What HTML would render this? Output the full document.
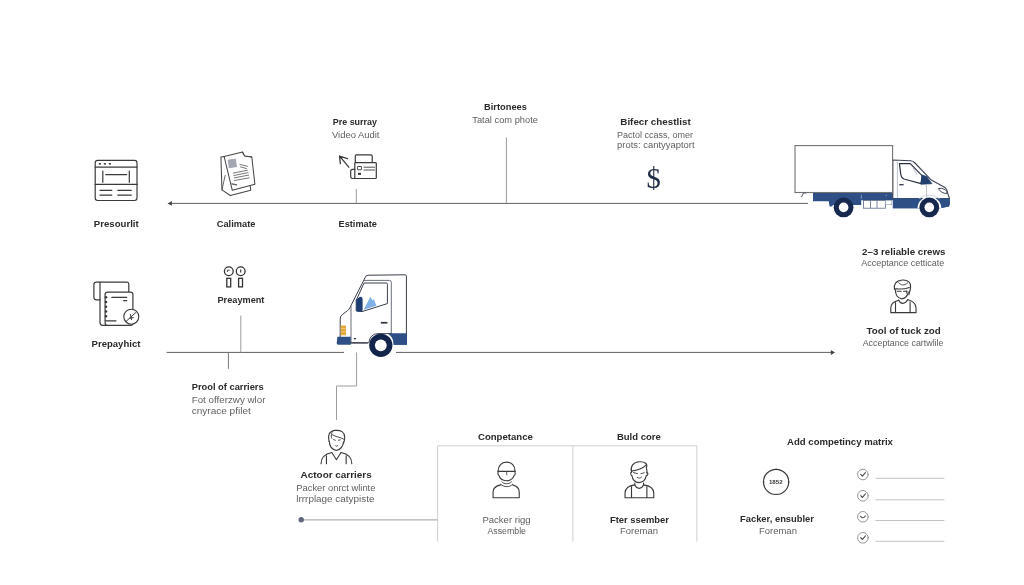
<!DOCTYPE html>
<html lang="en"><head><meta charset="utf-8"><title>Moving process infographic</title>
<style>
html,body{margin:0;padding:0;background:#fff;}
body{width:1024px;height:585px;overflow:hidden;font-family:"Liberation Sans",sans-serif;}
svg{display:block;will-change:transform;}
svg text{font-family:"Liberation Sans",sans-serif;}
</style></head><body>
<svg width="1024" height="585" viewBox="0 0 1024 585">
<rect width="1024" height="585" fill="#ffffff"/>
<!-- main timeline lines -->
<g id="lines" fill="none" stroke="#606060" stroke-width="1">
  <line x1="170" y1="203.4" x2="808" y2="203.4"/>
  <line x1="166.6" y1="352.4" x2="344" y2="352.4"/>
  <line x1="396" y1="352.4" x2="831" y2="352.4"/>
</g>
<polygon points="167.5,203.4 171.8,201.1 171.8,205.7" fill="#444"/>
<polygon points="835,352.5 830.8,350 830.8,355" fill="#444"/>
<g id="ticks" fill="none" stroke="#9c9c9c" stroke-width="1">
  <line x1="356.3" y1="189" x2="356.3" y2="203"/>
  <line x1="506.4" y1="137.4" x2="506.4" y2="203"/>
  <line x1="240.8" y1="315.6" x2="240.8" y2="352.4"/>
  <line x1="228.4" y1="352.4" x2="228.4" y2="368.8" stroke="#777"/>
  <polyline points="356.6,352.4 356.6,386 336.5,386 336.5,420"/>
  <line x1="303" y1="519.9" x2="437.6" y2="519.9"/>
</g>
<circle cx="301.2" cy="519.8" r="2.7" fill="#5f667c"/>
<!-- competence box -->
<g fill="none" stroke="#cfcfcf" stroke-width="1">
  <polyline points="437.6,541.6 437.6,445.8 696.9,445.8 696.9,541.6"/>
  <line x1="572.9" y1="445.8" x2="572.9" y2="541.6"/>
</g>

<!-- browser icon -->
<g id="ic-browser" fill="none" stroke="#3a3a3a" stroke-width="1.2" stroke-linecap="round">
  <rect x="95.2" y="160.3" width="41.8" height="40.2" rx="2.4"/>
  <line x1="95.2" y1="167.2" x2="137" y2="167.2"/>
  <line x1="95.2" y1="184.4" x2="137" y2="184.4"/>
  <line x1="102.8" y1="171" x2="102.8" y2="182.3"/>
  <line x1="129.3" y1="171" x2="129.3" y2="182.3"/>
  <line x1="105.7" y1="174.6" x2="126.7" y2="174.6"/>
  <line x1="100" y1="190.3" x2="111.8" y2="190.3"/>
  <line x1="117.8" y1="190.3" x2="131.3" y2="190.3"/>
  <line x1="100" y1="195.2" x2="111.8" y2="195.2"/>
  <line x1="117.8" y1="195.2" x2="131.3" y2="195.2"/>
  <g stroke="none" fill="#3a3a3a"><rect x="98.8" y="163.1" width="2.2" height="1.5"/><rect x="103.8" y="163.1" width="2.2" height="1.5"/><rect x="108.8" y="163.1" width="2.2" height="1.5"/></g>
</g>

<!-- documents icon -->
<g id="ic-docs" transform="translate(205,140) scale(0.10264)" fill="#fff" stroke="#444" stroke-width="10" stroke-linejoin="round" stroke-linecap="round">
  <path d="M186,160 L155,166 L165,486 L246,541 L446,490 L440,446 Z"/>
  <path d="M196,346 L166,484" fill="none" stroke-width="8"/>
  <path d="M186,160 L366,118 L386,156 L456,165 L486,430 L266,490 Z"/>
  <path d="M366,118 C372,140 380,152 392,158 L456,165" fill="none" stroke-width="9"/>
  <rect x="226" y="186" width="80" height="84" fill="#a2a7b2" stroke="none" transform="rotate(-8 266 228)"/>
  <g fill="none" stroke-width="8" stroke="#5a5a5a">
    <path d="M340,238 L414,256 M346,262 L404,278 M276,322 L414,295 M281,346 L420,318 M286,369 L425,342 M287,395 L430,368"/>
    <path d="M262,428 L308,438" stroke-width="12"/>
  </g>
</g>

<!-- estimate icon -->
<g id="ic-estimate" fill="none" stroke="#3a3a3a" stroke-width="1.2" stroke-linejoin="round" stroke-linecap="round">
  <path d="M355.3,162.4 V156 Q355.3,154.9 356.4,154.9 H371.1 Q372.2,154.9 372.2,156 V162.4"/>
  <rect x="354.8" y="162.6" width="21.5" height="15.9" rx="0.8"/>
  <path d="M354.8,169.3 H352.6 Q350.7,169.3 350.7,171.2 V176.6 Q350.7,178.5 352.6,178.5 H354.8"/>
  <rect x="358" y="166.5" width="3.4" height="3.3" stroke-width="0.9"/>
  <line x1="364" y1="167.2" x2="374.6" y2="167.2" stroke-width="0.9"/>
  <line x1="364" y1="170" x2="374.6" y2="170" stroke-width="0.9"/>
  <rect x="358" y="172.8" width="3" height="2.1" fill="#3a3a3a" stroke="none"/>
  <path d="M348.8,167.2 L339.6,156.1 M340.4,163.6 L339.5,156 L347.4,158.6" stroke-width="1.3"/>
</g>

<!-- dollar sign -->
<text x="653.6" y="188.4" font-size="28.5" text-anchor="middle" fill="#1f2c47" style="font-family:'Liberation Serif',serif">$</text>

<!-- prepay checklist icon -->
<g id="ic-prepay" fill="none" stroke="#3a3a3a" stroke-width="1.2" stroke-linejoin="round" stroke-linecap="round">
  <path d="M100,299.8 H96.4 Q93.9,299.8 93.9,297.3 V284.6 Q93.9,282.1 96.4,282.1 H127 Q128.8,282.1 128.8,284 V292"/>
  <path d="M100,282.1 V322.6 Q100,325.4 102.8,325.4 H106"/>
  <rect x="105.1" y="292.1" width="27.8" height="33.3" rx="2.4" fill="#fff"/>
  <line x1="111.8" y1="297.4" x2="126.7" y2="297.4"/>
  <line x1="123.6" y1="300.6" x2="126.7" y2="300.6"/>
  <line x1="105.4" y1="320.8" x2="116" y2="320.8"/>
  <g stroke="none" fill="#3a3a3a">
    <circle cx="106" cy="297.2" r="1.25"/><circle cx="106" cy="302" r="1.25"/><circle cx="106" cy="306.7" r="1.25"/><circle cx="106" cy="311.6" r="1.25"/><circle cx="106" cy="316.2" r="1.25"/>
  </g>
  <circle cx="131.3" cy="316.7" r="7.5" fill="#fff" stroke-width="1.1"/>
  <path d="M126.3,321.2 L136.2,312.2 M130.4,314.3 L131.5,319.6 M129.4,318.2 L133.4,317.6" stroke-width="1"/>
</g>

<!-- prepayment coins icon -->
<g id="ic-pay" fill="none" stroke="#333" stroke-width="1.3">
  <circle cx="228.8" cy="271.2" r="4.4"/>
  <circle cx="240.7" cy="271.2" r="4.4"/>
  <rect x="226.8" y="278.3" width="3.9" height="8.6"/>
  <rect x="238.6" y="278.3" width="3.9" height="8.6"/>
  <path d="M227.4,272 V270.2 H229.6" stroke-width="0.9"/>
  <line x1="240.7" y1="269.6" x2="240.7" y2="272.6" stroke-width="1.1"/>
</g>

<!-- big truck (top right) -->
<g id="truck1">
  <!-- chassis -->
  <path d="M813,193.1 H893 V198.5 H949.6 Q950.4,203 949,206.6 L939.5,208.3 H893 V200.2 H861.2 V204.9 H833.4 L831.3,206.5 H829.6 L828.7,201.3 H813 Z" fill="#2d4f86"/>
  <rect x="863.6" y="200.5" width="22" height="7.7" fill="#fff" stroke="#5a6a88" stroke-width="0.8"/>
  <rect x="885.6" y="200.5" width="6.2" height="4.2" fill="#fff" stroke="#8a96ad" stroke-width="0.6"/>
  <path d="M861.3,194.6 V199 M885.6,195.4 h1.4" stroke="#9fb3d6" stroke-width="0.7" fill="none"/>
  <line x1="870.5" y1="200.4" x2="870.5" y2="208" stroke="#5a6a88" stroke-width="0.8"/>
  <line x1="877" y1="200.4" x2="877" y2="208" stroke="#5a6a88" stroke-width="0.8"/>
  <!-- cab body -->
  <path d="M892.8,160 L910.5,160.8 Q913,161 915,163 L931.3,180.1 L945.4,187.8 Q947.6,190 948,194.2 L949.6,198.6 H892.8 Z" fill="#fff" stroke="#3d4456" stroke-width="1.1" stroke-linejoin="round"/>
  <path d="M892.8,198.3 H949.7 Q950.6,203 949,206.6 L940,208.3 H892.8 Z" fill="#2d4f86"/>
  <!-- wheel arch -->
  <path d="M917.5,208.3 A11.9,11.9 0 0 1 941.3,208.3 Z" fill="#fff"/>
  <path d="M919.2,198.6 Q929.4,191.6 939.6,198.6" fill="none" stroke="#c9ced8" stroke-width="0.8"/>
  <!-- window -->
  <path d="M899.4,163.6 H910.3 L922.3,175.8 L921,183.6 L903.9,179 Q901.2,177.6 900.8,174.6 Z" fill="#fff" stroke="#2d3344" stroke-width="1.2" stroke-linejoin="round"/>
  <line x1="913" y1="167.5" x2="917" y2="174.5" stroke="#9aa2b3" stroke-width="0.7"/>
  <path d="M921.9,175 L926.7,176.6 L931.9,183.7 L921,184.2 Z" fill="#23406f" stroke="#23406f" stroke-width="0.8" stroke-linejoin="round"/>
  <line x1="926.3" y1="184" x2="926.8" y2="198" stroke="#aab1c0" stroke-width="0.8"/>
  <line x1="897.4" y1="162" x2="897.4" y2="198" stroke="#aab1c0" stroke-width="0.8"/>
  <line x1="899.3" y1="184.7" x2="903.6" y2="184.7" stroke="#2d3344" stroke-width="1.3"/>
  <path d="M938.4,188.6 Q941.5,187.6 945.2,189.6 Q947.2,191 947.2,193.4 Q941.5,193.8 938.4,188.6 Z" fill="#fff" stroke="#2d3344" stroke-width="0.9"/>
  <!-- box -->
  <rect x="795" y="145.6" width="97.6" height="46.9" fill="#fff" stroke="#727272" stroke-width="1.1"/>
  <path d="M803.5,192.8 L801.5,197 M803.5,193 H806.5" fill="none" stroke="#555a66" stroke-width="1"/>
  <!-- wheels -->
  <circle cx="843.6" cy="207.4" r="9.9" fill="#16284e"/>
  <circle cx="843.6" cy="207.4" r="4.8" fill="#fff"/>
  <circle cx="929.3" cy="207.4" r="9.9" fill="#16284e"/>
  <circle cx="929.3" cy="207.4" r="4.8" fill="#fff"/>
</g>

<!-- small truck cab (middle left) -->
<g id="truck2">
  <path d="M365.8,276.2 Q366.6,275.3 369,275.2 L405.2,274.8 Q406.4,274.8 406.4,276.2 V343 H340.2 V319 Q340.2,316 342.6,314.4 L347.6,310.6 Q349.2,309.4 350,307.4 Z" fill="#fff" stroke="#3a3f4c" stroke-width="1" stroke-linejoin="round"/>
  <path d="M351,306 V342.6" fill="none" stroke="#5a5f6c" stroke-width="0.9"/>
  <path d="M363.4,280.4 H389.6 Q391.3,280.4 391.3,282.2 V333" fill="none" stroke="#5a5f6c" stroke-width="0.9"/>
  <!-- window -->
  <path d="M364,283 H386.4 Q387.4,283 387.4,284.2 V303.6 L362,311.6 L356.2,310.6 V300.4 Z" fill="#fff" stroke="#3a3f4c" stroke-width="1" stroke-linejoin="round"/>
  <path d="M363.6,309.8 L370.4,296.8 L372.6,300.6 L373.8,299 L376.4,305.8 Z" fill="#7fb0e6"/>
  <path d="M356.2,300.6 Q357,298.2 360,296.8 Q362.4,296.6 362.6,299 V310.2 Q362,311.8 359.6,311.8 H357.4 Q356.2,311.6 356.2,310 Z" fill="#1d3d73"/>
  <!-- handle, marks -->
  <rect x="380.8" y="321.9" width="6.6" height="1.7" fill="#2f3442"/>
  <rect x="353.8" y="338" width="2.2" height="1.3" fill="#2f3442"/>
  <!-- headlight -->
  <rect x="340.7" y="325.4" width="5.3" height="9.8" rx="0.8" fill="#e3a73a"/>
  <path d="M340.7,328.6 H346 M340.7,331.8 H346" stroke="#f3d48a" stroke-width="0.7" fill="none"/>
  <!-- bumper + rear -->
  <path d="M337.4,336.8 H350.8 V344.8 H338.4 Q336.6,344.8 336.7,343 Z" fill="#2d4f86"/>
  <path d="M374,333.6 H406.9 V344.8 H374 Z" fill="#2d4f86"/>
  <path d="M367.6,344.8 A13.2,13.2 0 0 1 394,344.8 Z" fill="#fff"/>
  <path d="M368.8,342.8 Q370,333.8 378,333.6 H392" fill="none" stroke="#2f3442" stroke-width="0.9"/>
  <path d="M390,333.6 H406.9 V344.8 H393.6 Q393.2,337.4 390,333.6 Z" fill="#2d4f86"/>
  <line x1="350.8" y1="342.8" x2="368.6" y2="342.8" stroke="#2f3442" stroke-width="1"/>
  <circle cx="380.8" cy="345.3" r="11.6" fill="#14254b"/>
  <circle cx="380.8" cy="345.3" r="5.9" fill="#fff"/>
</g>





<!-- person icons -->
<g id="p1" transform="translate(868,270) scale(0.10264)" fill="none" stroke="#3a3a3a" stroke-width="11" stroke-linecap="round" stroke-linejoin="round">
  <path d="M258,190 C248,140 270,105 335,98 C392,95 420,125 415,165 C414,188 408,205 398,240"/>
  <path d="M258,186 C290,178 335,198 402,170"/>
  <path d="M298,124 C322,150 352,156 386,126" stroke-width="9"/>
  <path d="M268,195 C264,240 290,276 330,281 C366,278 386,255 393,214"/>
  <path d="M284,208 H324 M346,208 H380" stroke-width="10"/>
  <path d="M376,204 V226" stroke-width="8"/>
  <path d="M300,293 C315,336 362,336 388,288"/>
  <path d="M300,295 C240,310 222,335 222,370 V415 H468 V370 C468,335 450,308 390,290"/>
  <path d="M268,318 V413 M410,312 V413"/>
</g>
<g id="p2" transform="translate(301,415) scale(0.10264)" fill="none" stroke="#3a3a3a" stroke-width="11" stroke-linecap="round" stroke-linejoin="round">
  <path d="M273,258 C260,200 270,160 330,150 C392,145 422,165 426,215 C427,240 421,258 416,272"/>
  <path d="M302,172 C290,198 294,214 300,228" stroke-width="9"/>
  <path d="M304,192 C340,214 380,214 418,236" stroke-width="9"/>
  <path d="M276,256 C276,300 300,336 345,346 C386,336 410,302 415,262"/>
  <path d="M318,240 L334,246 M366,246 L382,242 M338,300 C345,308 354,306 358,298" stroke-width="9"/>
  <path d="M300,366 L345,436 L390,366"/>
  <path d="M300,366 C230,380 195,410 195,475 M390,366 C460,380 495,410 495,475"/>
  <path d="M248,398 V475 M440,398 V475"/>
</g>
<g id="p3" transform="translate(471,450) scale(0.10264)" fill="none" stroke="#3a3a3a" stroke-width="11" stroke-linecap="round" stroke-linejoin="round">
  <path d="M265,210 C262,150 300,118 346,118 C396,118 431,150 428,210"/>
  <path d="M262,208 H432"/>
  <path d="M268,212 C259,215 261,245 272,248 C280,280 300,298 346,300 C386,298 410,280 420,248 C433,245 433,215 425,212"/>
  <path d="M348,212 V242" stroke-width="8"/>
  <path d="M300,310 C320,336 375,336 395,310 M290,334 C320,366 380,366 405,334" stroke-width="9"/>
  <path d="M290,340 C240,350 215,370 215,410 V465 H470 V410 C470,370 445,350 405,340"/>
</g>
<g id="p4" transform="translate(604,450) scale(0.10264)" fill="none" stroke="#3a3a3a" stroke-width="11" stroke-linecap="round" stroke-linejoin="round">
  <path d="M268,216 C254,160 285,118 345,115 C396,112 432,135 412,176 C420,190 420,205 418,224"/>
  <path d="M268,206 C310,200 370,186 406,150"/>
  <path d="M268,216 C257,218 257,246 272,250 C280,296 310,318 340,318 C376,315 405,290 412,250 C429,248 433,222 418,220"/>
  <path d="M288,220 L326,230 M360,230 L392,222 M324,268 C340,278 355,276 366,264" stroke-width="9"/>
  <path d="M300,322 V342 C320,384 366,384 385,342 V322"/>
  <path d="M300,340 C230,350 205,380 205,420 V465 H485 V420 C485,380 460,350 385,340"/>
  <path d="M268,356 V463 M418,356 V463"/>
</g>

<!-- badge circle -->
<circle cx="776.1" cy="481.9" r="12.6" fill="none" stroke="#3a3a3a" stroke-width="1.15"/>
<path d="M776.1,468.7 v1.4 M776.1,493.7 v1.4 M762.9,481.9 h1.4 M787.9,481.9 h1.4" stroke="#3a3a3a" stroke-width="1.1" fill="none"/>
<text x="768.9" y="483.9" font-size="5.6" font-weight="700" fill="#3a3a3a" textLength="13.7" lengthAdjust="spacingAndGlyphs">1852</text>

<!-- check list -->
<g id="checks" fill="none" stroke="#8a8a8a" stroke-width="0.9" stroke-linecap="round" stroke-linejoin="round">
  <circle cx="862.9" cy="474.5" r="5.3"/>
  <circle cx="862.9" cy="495.8" r="5.3"/>
  <circle cx="862.9" cy="516.8" r="5.3"/>
  <circle cx="862.9" cy="537.8" r="5.3"/>
  <g stroke="#4a4a4a" stroke-width="1.1">
    <path d="M860.7,474.4 L862.4,476.2 L865.4,472.6"/>
    <path d="M860.7,495.7 L862.4,497.5 L865.4,493.9"/>
    <path d="M860.6,516.4 Q862.9,519.4 865.3,516"/>
    <path d="M860.7,537.7 L862.4,539.5 L865.4,535.9"/>
  </g>
</g>
<g stroke="#c2c2c2" stroke-width="1">
  <line x1="875.4" y1="478.3" x2="944.4" y2="478.3"/>
  <line x1="875.4" y1="499.8" x2="944.4" y2="499.8"/>
  <line x1="875.4" y1="520.5" x2="944.4" y2="520.5"/>
  <line x1="875.4" y1="541.3" x2="944.4" y2="541.3"/>
</g>

<g id="labels">
<text x="93.8" y="227.0" font-size="9.2" font-weight="700" fill="#2b2b2b" textLength="44.9" lengthAdjust="spacingAndGlyphs">Presourlit</text>
<text x="216.7" y="227.0" font-size="9.2" font-weight="700" fill="#2b2b2b" textLength="38.8" lengthAdjust="spacingAndGlyphs">Calimate</text>
<text x="338.5" y="226.7" font-size="9.2" font-weight="700" fill="#2b2b2b" textLength="38.4" lengthAdjust="spacingAndGlyphs">Estimate</text>
<text x="332.8" y="124.6" font-size="9.2" font-weight="700" fill="#2b2b2b" textLength="44.1" lengthAdjust="spacingAndGlyphs">Pre surray</text>
<text x="332.0" y="138.0" font-size="8.3" font-weight="400" fill="#5e5e5e" textLength="47.5" lengthAdjust="spacingAndGlyphs">Video Audit</text>
<text x="484.1" y="109.7" font-size="9.2" font-weight="700" fill="#2b2b2b" textLength="42.8" lengthAdjust="spacingAndGlyphs">Birtonees</text>
<text x="472.3" y="123.3" font-size="8.3" font-weight="400" fill="#5e5e5e" textLength="65.6" lengthAdjust="spacingAndGlyphs">Tatal com phote</text>
<text x="620.3" y="124.6" font-size="9.2" font-weight="700" fill="#2b2b2b" textLength="70.4" lengthAdjust="spacingAndGlyphs">Bifecr chestlist</text>
<text x="617.0" y="137.8" font-size="8.3" font-weight="400" fill="#5e5e5e" textLength="76.1" lengthAdjust="spacingAndGlyphs">Pactol ccass, omer</text>
<text x="617.0" y="148.2" font-size="8.3" font-weight="400" fill="#5e5e5e" textLength="77.6" lengthAdjust="spacingAndGlyphs">prots: cantyyaptort</text>
<text x="862.1" y="254.7" font-size="9.2" font-weight="700" fill="#2b2b2b" textLength="83.3" lengthAdjust="spacingAndGlyphs">2–3 reliable crews</text>
<text x="861.2" y="266.2" font-size="8.3" font-weight="400" fill="#5e5e5e" textLength="83.1" lengthAdjust="spacingAndGlyphs">Acceptance cetticate</text>
<text x="866.6" y="333.7" font-size="9.2" font-weight="700" fill="#2b2b2b" textLength="74.1" lengthAdjust="spacingAndGlyphs">Tool of tuck zod</text>
<text x="862.7" y="345.8" font-size="8.3" font-weight="400" fill="#5e5e5e" textLength="80.8" lengthAdjust="spacingAndGlyphs">Acceptance cartwlile</text>
<text x="91.6" y="347.3" font-size="9.2" font-weight="700" fill="#2b2b2b" textLength="48.8" lengthAdjust="spacingAndGlyphs">Prepayhict</text>
<text x="217.5" y="302.7" font-size="9.2" font-weight="700" fill="#2b2b2b" textLength="46.9" lengthAdjust="spacingAndGlyphs">Preayment</text>
<text x="191.7" y="390.2" font-size="9.2" font-weight="700" fill="#2b2b2b" textLength="72.0" lengthAdjust="spacingAndGlyphs">Prool of carriers</text>
<text x="191.7" y="402.9" font-size="8.3" font-weight="400" fill="#5e5e5e" textLength="73.8" lengthAdjust="spacingAndGlyphs">Fot offerzwy wlor</text>
<text x="191.7" y="413.7" font-size="8.3" font-weight="400" fill="#5e5e5e" textLength="59.1" lengthAdjust="spacingAndGlyphs">cnyrace pfilet</text>
<text x="300.6" y="477.7" font-size="9.2" font-weight="700" fill="#2b2b2b" textLength="71.1" lengthAdjust="spacingAndGlyphs">Actoor carriers</text>
<text x="296.3" y="490.9" font-size="8.3" font-weight="400" fill="#5e5e5e" textLength="79.1" lengthAdjust="spacingAndGlyphs">Packer onrct wlinte</text>
<text x="296.3" y="501.7" font-size="8.3" font-weight="400" fill="#5e5e5e" textLength="78.1" lengthAdjust="spacingAndGlyphs">lrrrplage catypiste</text>
<text x="478.0" y="439.6" font-size="9.2" font-weight="700" fill="#2b2b2b" textLength="54.8" lengthAdjust="spacingAndGlyphs">Conpetance</text>
<text x="616.9" y="439.6" font-size="9.2" font-weight="700" fill="#2b2b2b" textLength="43.9" lengthAdjust="spacingAndGlyphs">Buld core</text>
<text x="482.4" y="522.5" font-size="8.3" font-weight="400" fill="#5e5e5e" textLength="48.3" lengthAdjust="spacingAndGlyphs">Packer rigg</text>
<text x="487.4" y="534.3" font-size="8.3" font-weight="400" fill="#5e5e5e" textLength="38.6" lengthAdjust="spacingAndGlyphs">Assemble</text>
<text x="609.9" y="522.5" font-size="9.2" font-weight="700" fill="#2b2b2b" textLength="59.1" lengthAdjust="spacingAndGlyphs">Fter ssember</text>
<text x="620.1" y="534.3" font-size="8.3" font-weight="400" fill="#5e5e5e" textLength="37.8" lengthAdjust="spacingAndGlyphs">Foreman</text>
<text x="787.1" y="445.3" font-size="9.2" font-weight="700" fill="#2b2b2b" textLength="105.8" lengthAdjust="spacingAndGlyphs">Add competincy matrix</text>
<text x="740.0" y="522.1" font-size="9.2" font-weight="700" fill="#2b2b2b" textLength="74.0" lengthAdjust="spacingAndGlyphs">Facker, ensubler</text>
<text x="759.0" y="533.5" font-size="8.3" font-weight="400" fill="#5e5e5e" textLength="37.9" lengthAdjust="spacingAndGlyphs">Foreman</text>
</g>
</svg>
</body></html>
